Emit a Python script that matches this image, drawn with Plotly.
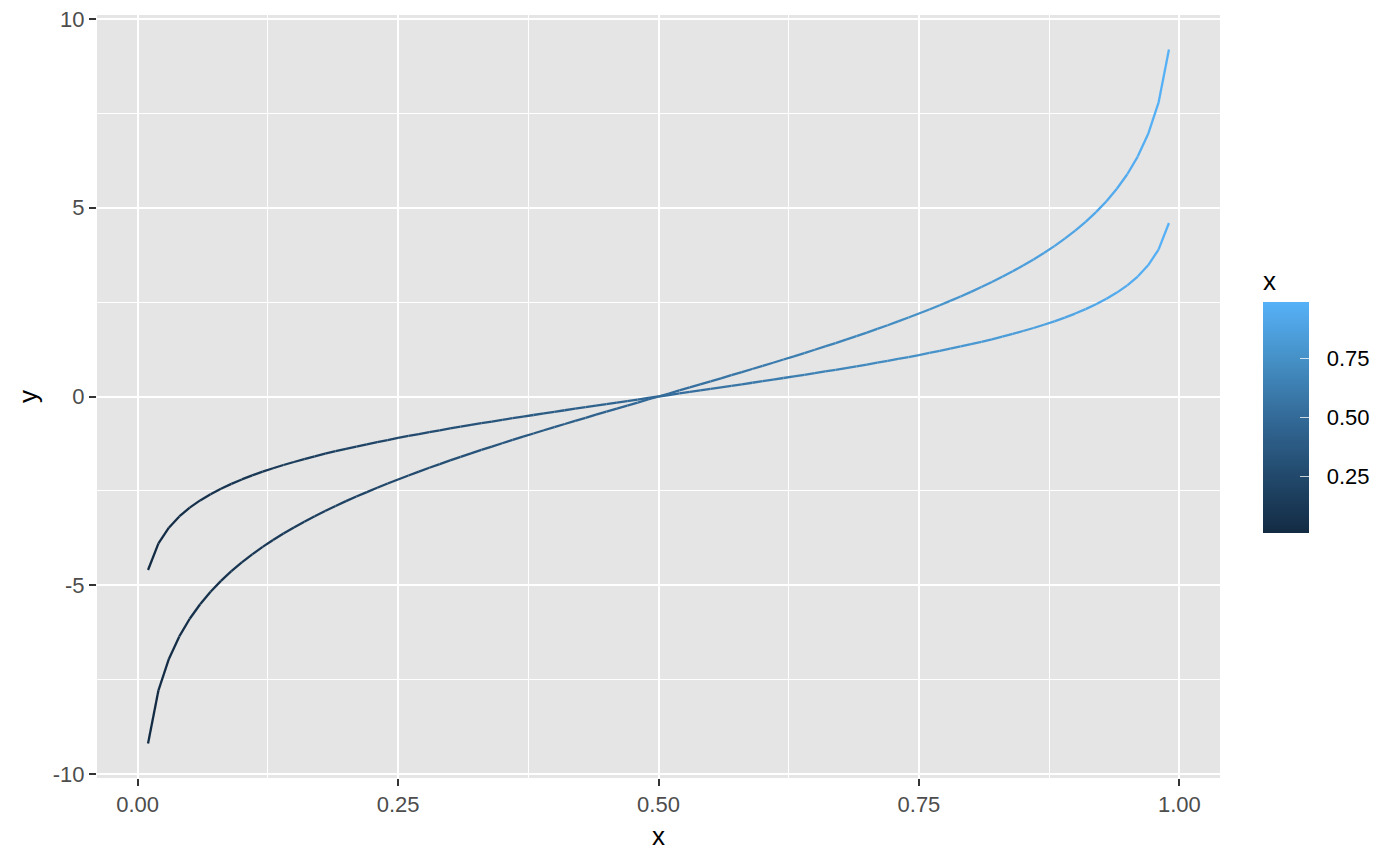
import plotly.graph_objects as go
from plotly.colors import sample_colorscale

# ---- data ----
x_vals = [round(0.01 * i, 2) for i in range(1, 100)]

y_low = [-4.595, -3.892, -3.476, -3.178, -2.944, -2.752, -2.587, -2.442, -2.314, -2.197,
         -2.091, -1.992, -1.901, -1.815, -1.735, -1.658, -1.586, -1.516, -1.450, -1.386,
         -1.325, -1.266, -1.208, -1.153, -1.099, -1.046, -0.995, -0.944, -0.895, -0.847,
         -0.800, -0.754, -0.708, -0.663, -0.619, -0.575, -0.532, -0.490, -0.447, -0.405,
         -0.364, -0.323, -0.282, -0.241, -0.201, -0.160, -0.120, -0.080, -0.040, 0.0,
         0.040, 0.080, 0.120, 0.160, 0.201, 0.241, 0.282, 0.323, 0.364, 0.405,
         0.447, 0.490, 0.532, 0.575, 0.619, 0.663, 0.708, 0.754, 0.800, 0.847,
         0.895, 0.944, 0.995, 1.046, 1.099, 1.153, 1.208, 1.266, 1.325, 1.386,
         1.450, 1.516, 1.586, 1.658, 1.735, 1.815, 1.901, 1.992, 2.091, 2.197,
         2.314, 2.442, 2.587, 2.752, 2.944, 3.178, 3.476, 3.892, 4.595]

y_high = [-9.190, -7.784, -6.952, -6.356, -5.888, -5.504, -5.174, -4.884, -4.628, -4.394,
          -4.182, -3.984, -3.802, -3.630, -3.470, -3.316, -3.172, -3.032, -2.900, -2.772,
          -2.650, -2.532, -2.416, -2.306, -2.198, -2.092, -1.990, -1.888, -1.790, -1.694,
          -1.600, -1.508, -1.416, -1.326, -1.238, -1.150, -1.064, -0.980, -0.894, -0.810,
          -0.728, -0.646, -0.564, -0.482, -0.402, -0.320, -0.240, -0.160, -0.080, 0.0,
          0.080, 0.160, 0.240, 0.320, 0.402, 0.482, 0.564, 0.646, 0.728, 0.810,
          0.894, 0.980, 1.064, 1.150, 1.238, 1.326, 1.416, 1.508, 1.600, 1.694,
          1.790, 1.888, 1.990, 2.092, 2.198, 2.306, 2.416, 2.532, 2.650, 2.772,
          2.900, 3.032, 3.172, 3.316, 3.470, 3.630, 3.802, 3.984, 4.182, 4.394,
          4.628, 4.884, 5.174, 5.504, 5.888, 6.356, 6.952, 7.784, 9.190]

x_ticks = [0.0, 0.25, 0.5, 0.75, 1.0]
x_tick_labels = ["0.00", "0.25", "0.50", "0.75", "1.00"]
y_ticks = [-10, -5, 0, 5, 10]
y_tick_labels = ["-10", "-5", "0", "5", "10"]
cbar_ticks = [0.25, 0.5, 0.75]
cbar_tick_labels = ["0.25", "0.50", "0.75"]

# ---- style ----
colorscale = [[0.0, "#132B43"], [0.25, "#22496C"], [0.5, "#336A98"],
              [0.75, "#4590C6"], [1.0, "#56B1F7"]]
cmin, cmax = min(x_vals), max(x_vals)
FONT = "Liberation Sans, Arial, Helvetica, sans-serif"

# geometry (pixels)
ML, MR, MT, MB = 97, 180, 15, 88
PW, PH = 1400 - ML - MR, 866 - MT - MB
BAR_L, BAR_W, BAR_B, BAR_H, TITLE_H = 1263, 46, 533, 230, 36

fig = go.Figure()

for ys in (y_high, y_low):
    for i in range(len(x_vals) - 1):
        xm = (x_vals[i] + x_vals[i + 1]) / 2
        t = (xm - cmin) / (cmax - cmin)
        col = sample_colorscale(colorscale, [t])[0]
        fig.add_trace(go.Scatter(
            x=[x_vals[i], x_vals[i + 1]], y=[ys[i], ys[i + 1]],
            mode="lines", line=dict(color=col, width=2.3),
            showlegend=False, hoverinfo="skip"))

# colorbar carrier
fig.add_trace(go.Scatter(
    x=[x_vals[0], x_vals[-1]], y=[y_low[0], y_low[-1]], mode="markers",
    marker=dict(color=[cmin, cmax], cmin=cmin, cmax=cmax, colorscale=colorscale,
                opacity=0, size=1, showscale=True,
                colorbar=dict(
                    title=dict(text="x", side="top", font=dict(size=26, color="black", family=FONT)),
                    thickness=BAR_W, thicknessmode="pixels",
                    len=BAR_H + TITLE_H, lenmode="pixels",
                    x=(BAR_L - ML) / PW, xanchor="left",
                    y=(866 - MB - BAR_B) / PH, yanchor="bottom",
                    xpad=0, ypad=0, outlinewidth=0,
                    tickvals=cbar_ticks,
                    ticktext=["\u2002\u200a" + s for s in cbar_tick_labels],
                    ticks="inside", ticklen=9, tickcolor="rgba(255,255,255,0.75)", tickwidth=1.3,
                    tickfont=dict(size=22, color="black", family=FONT),
                )),
    showlegend=False, hoverinfo="skip"))

fig.update_layout(
    width=1400, height=866,
    paper_bgcolor="white", plot_bgcolor="#E5E5E5",
    margin=dict(l=ML, r=MR, t=MT, b=MB, autoexpand=False),
    font=dict(family=FONT),
    xaxis=dict(
        range=[-0.039, 1.039], tickvals=x_ticks, ticktext=x_tick_labels,
        showgrid=True, gridcolor="white", gridwidth=2.2,
        minor=dict(tickvals=[0.125, 0.375, 0.625, 0.875], showgrid=True,
                   gridcolor="white", gridwidth=1.1, ticks=""),
        zeroline=False, showline=False,
        ticks="outside", ticklen=7, tickwidth=2, tickcolor="#333333",
        tickfont=dict(size=22, color="#4D4D4D"),
        title=dict(text="x", font=dict(size=26, color="black"), standoff=10),
    ),
    yaxis=dict(
        range=[-10.106, 10.106], tickvals=y_ticks, ticktext=y_tick_labels,
        showgrid=True, gridcolor="white", gridwidth=2.2,
        minor=dict(tickvals=[-7.5, -2.5, 2.5, 7.5], showgrid=True,
                   gridcolor="white", gridwidth=1.1, ticks=""),
        zeroline=False, showline=False,
        ticks="outside", ticklen=7, tickwidth=2, tickcolor="#333333",
        tickfont=dict(size=22, color="#4D4D4D"),
        title=dict(text="y", font=dict(size=26, color="black"), standoff=7),
    ),
)

fig.write_html("out.html", config={"displayModeBar": False},
               post_script="document.body.style.margin='0';document.body.style.padding='0';")
